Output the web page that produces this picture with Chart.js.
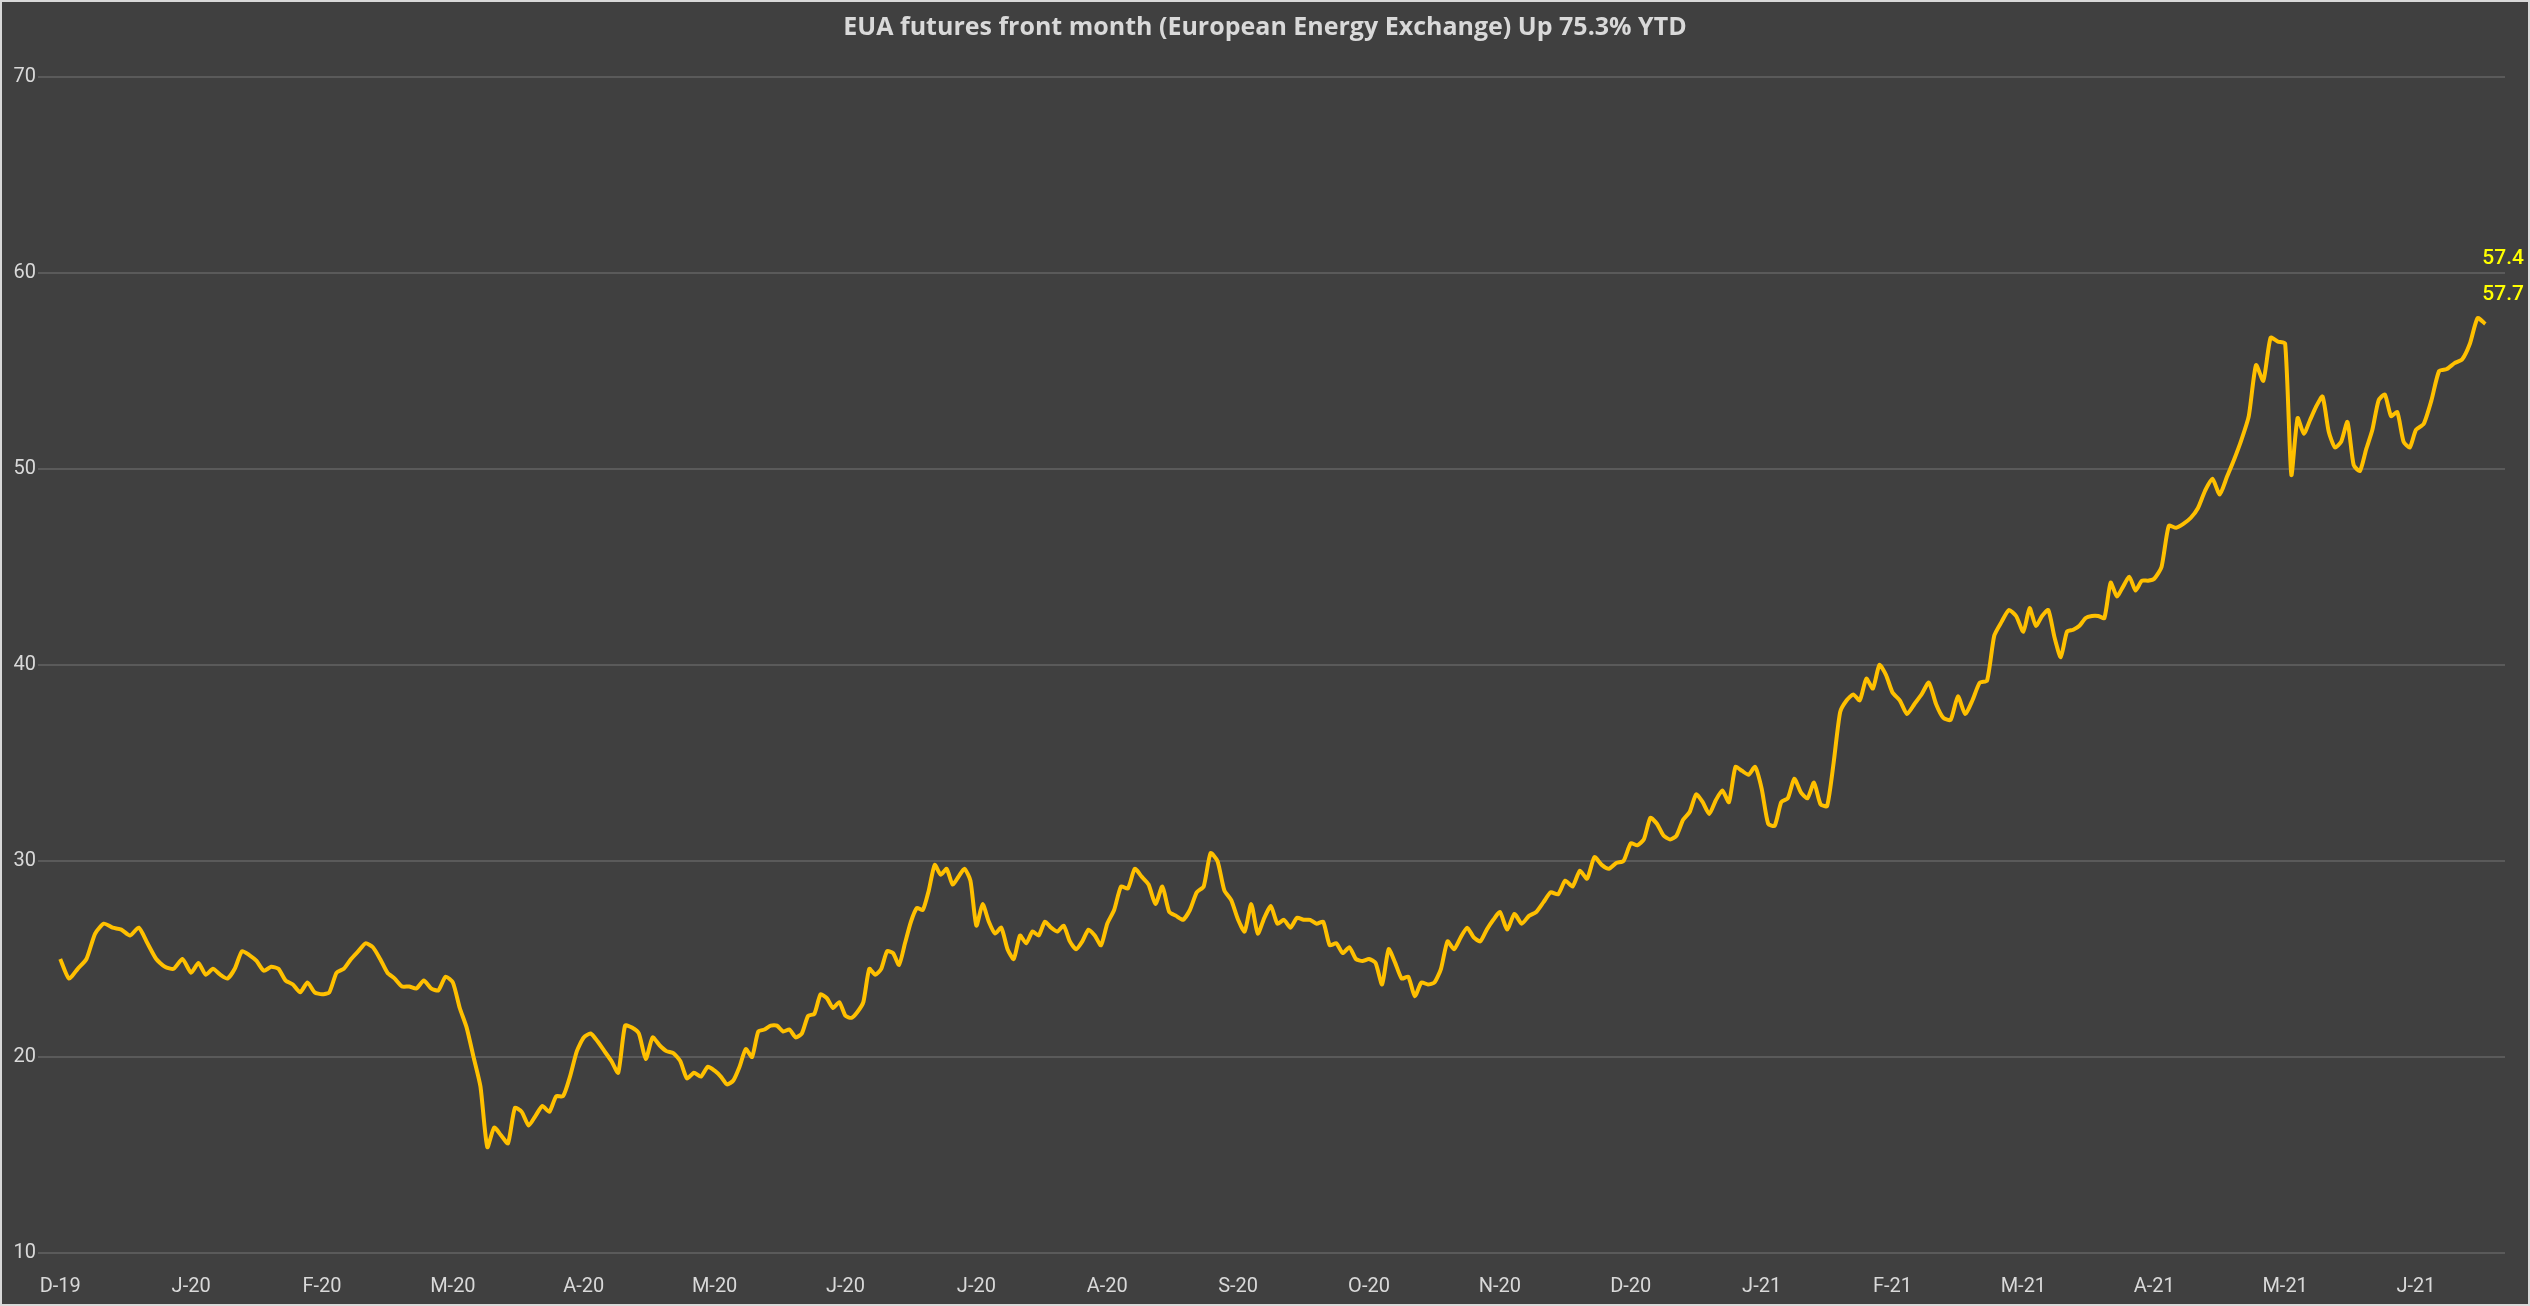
<!DOCTYPE html>
<html><head><meta charset="utf-8">
<script src="https://cdn.jsdelivr.net/npm/chart.js@4/dist/chart.umd.min.js"></script>
<style>html,body{margin:0;padding:0;background:#d9d9d9}#wrap{position:absolute;left:2px;top:2px;width:2526px;height:1302px;background:#404040}</style>
</head><body><div id="wrap"><canvas id="c"></canvas></div>
<script>
const monthLabels = ["D-19","J-20","F-20","M-20","A-20","M-20","J-20","J-20","A-20","S-20","O-20","N-20","D-20","J-21","F-21","M-21","A-21","M-21","J-21"];
const dec19 = [25,24,24.5,25,26.3,26.8,26.6,26.5,26.2,26.6,25.8,25,24.6,24.5,25];
const jan20 = [24.3,24.8,24.2,24.5,24.2,24,24.5,25.4,25.2,24.9,24.4,24.6,24.5,23.9,23.7,23.3,23.8,23.3];
const feb20 = [23.2,23.3,24.3,24.5,25,25.4,25.8,25.6,25,24.3,24,23.6,23.6,23.5,23.9,23.5,23.4,24.1];
const mar20 = [23.8,22.5,21.5,20,18.5,15.4,16.4,16,15.6,17.4,17.2,16.5,17,17.5,17.2,18,18,19,20.3];
const apr20 = [21,21.2,20.8,20.3,19.8,19.2,21.6,21.5,21.2,19.9,21,20.6,20.3,20.2,19.8,18.9,19.2,19,19.5];
const may20 = [19.3,19,18.6,18.8,19.5,20.4,20,21.3,21.4,21.6,21.6,21.3,21.4,21,21.2,22.1,22.2,23.2,23,22.5,22.8];
const jun20 = [22.1,22,22.3,22.8,24.5,24.2,24.5,25.4,25.3,24.7,25.8,26.9,27.6,27.5,28.5,29.8,29.3,29.6,28.8,29.2,29.6,29];
const jul20 = [26.7,27.8,26.9,26.3,26.6,25.5,25,26.2,25.8,26.4,26.2,26.9,26.6,26.4,26.7,25.9,25.5,25.9,26.5,26.2,25.7];
const aug20 = [26.8,27.5,28.7,28.6,29.6,29.2,28.8,27.8,28.7,27.4,27.2,27,27.5,28.4,28.7,30.4,30,28.5,28];
const sep20 = [27,26.4,27.8,26.3,27.1,27.7,26.8,27,26.6,27.1,27,27,26.8,26.9,25.7,25.8,25.3,25.6,25,24.9];
const oct20 = [25,24.8,23.7,25.5,24.8,24,24.1,23.1,23.8,23.7,23.8,24.5,25.9,25.5,26.1,26.6,26.1,25.9,26.5,27];
const nov20 = [27.4,26.5,27.3,26.8,27.2,27.4,27.9,28.4,28.3,29,28.7,29.5,29.1,30.2,29.8,29.6,29.9,30];
const dec20 = [30.9,30.8,31.1,32.2,31.9,31.3,31.1,31.3,32.1,32.5,33.4,33,32.4,33.1,33.6,33,34.8,34.6,34.4,34.8];
const jan21 = [33.7,31.9,31.8,33,33.2,34.2,33.5,33.2,34,32.9,32.8,35,37.6,38.2,38.5,38.2,39.3,38.8,40,39.5];
const feb21 = [38.6,38.2,37.5,38,38.5,39.1,38,37.3,37.2,38.4,37.5,38.2,39.1,39.2,41.5,42.2,42.8,42.5];
const mar21 = [41.7,42.9,42,42.5,42.8,41.4,40.4,41.7,41.8,42,42.4,42.5,42.5,42.4,44.2,43.5,44,44.5,43.8,44.3,44.3];
const apr21 = [44.4,45,47.1,47,47.2,47.5,48,48.9,49.5,48.7,49.6,50.5,51.5,52.7,55.3,54.5,56.7,56.5];
const may21 = [56.4,49.7,52.6,51.8,52.5,53.2,53.7,51.9,51.1,51.4,52.4,50.2,49.9,51,52,53.5,53.8,52.7,52.9,51.4,51.1];
const jun21 = [52,52.3,53.5,55,55.1,55.4,55.6,56.4,57.7,57.4];
const months = [dec19,jan20,feb20,mar20,apr20,may20,jun20,jul20,aug20,sep20,oct20,nov20,dec20,jan21,feb21,mar21,apr21,may21,jun21];
const endLabels = ["57.4","57.7"];
const titleText = "EUA futures front month (European Energy Exchange) Up 75.3% YTD";

const pts = [];
months.forEach((arr, m) => {
  const span = (m === months.length - 1) ? 0.53 : 1;
  const step = (m === months.length - 1) ? span / (arr.length - 1) : span / arr.length;
  arr.forEach((v, i) => pts.push({x: m + i * step, y: v}));
});

const deco = {
  id: 'deco',
  afterDraw(chart) {
    const ctx = chart.ctx;
    ctx.save();
    ctx.fillStyle = '#d9d9d9';
    ctx.font = 'bold 25px "Open Sans"';
    ctx.textAlign = 'center'; ctx.textBaseline = 'middle';
    ctx.fillText(titleText, 1263, 26);
    ctx.fillStyle = '#ffff00';
    ctx.font = '500 21px Roboto';
    ctx.textAlign = 'right';
    ctx.fillText(endLabels[0], 2522, 257);
    ctx.fillText(endLabels[1], 2522, 293);
    ctx.restore();
  }
};

new Chart(document.getElementById('c'), {
  type: 'line',
  data: { datasets: [{ data: pts, borderColor: '#FFC000', borderWidth: 4, pointRadius: 0, tension: 0.2, fill: false }] },
  options: {
    responsive: true, maintainAspectRatio: false, animation: false,
    layout: { padding: { top: 75, right: 23, left: 0, bottom: 0 } },
    plugins: { legend: { display: false }, tooltip: { enabled: false } },
    scales: {
      x: {
        type: 'linear', min: -0.17, max: 18.68,
        afterBuildTicks: s => { s.ticks = monthLabels.map((_, i) => ({value: i})); },
        afterFit: s => { s.height = 51; },
        grid: { display: false }, border: { display: false },
        ticks: { color: '#d9d9d9', font: { family: 'Roboto', size: 20 }, padding: 14, maxRotation: 0, autoSkip: false,
                 callback: v => monthLabels[Math.round(v)] }
      },
      y: {
        min: 10, max: 70,
        afterFit: s => { s.width = 36; },
        grid: { color: '#5a5a5a', lineWidth: 2, drawTicks: false }, border: { display: false },
        ticks: { stepSize: 10, color: '#d9d9d9', font: { family: 'Roboto', size: 20 }, padding: 2 }
      }
    }
  },
  plugins: [deco]
});
</script></body></html>
